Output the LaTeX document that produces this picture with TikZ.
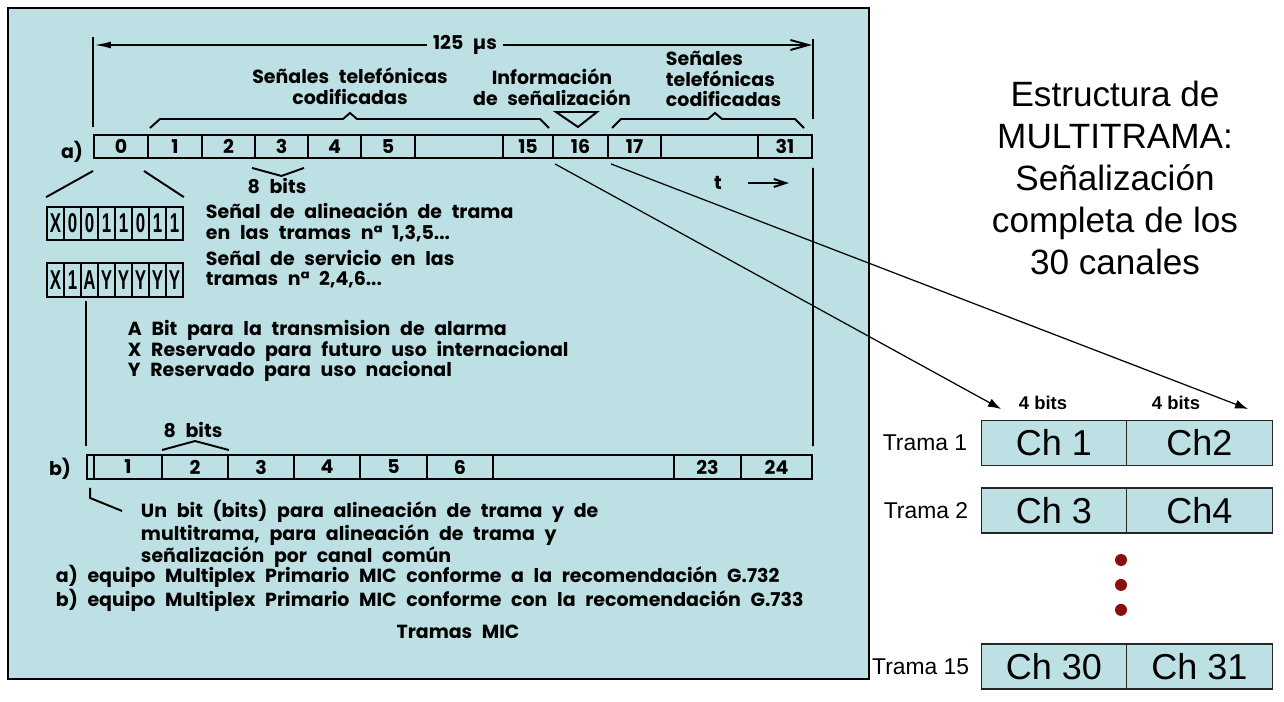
\documentclass[tikz,border=0pt]{standalone}
\usepackage{fontspec}
\setmainfont{Liberation Sans}
\newfontfamily\cadfont{Poppins}[WordSpace=2.4]
\newfontfamily\cellfont{Liberation Sans}[FakeStretch=0.62]
\usepackage{tikz}
\usetikzlibrary{arrows.meta, positioning}
\definecolor{colorPanel}{HTML}{BCE0E3}
\definecolor{colorDot}{HTML}{8C0F0F}

\begin{document}
\begin{tikzpicture}[x=0.02cm, y=-0.02cm, line width=1.1pt,
    cad/.style={font=\cadfont\bfseries\fontsize{10.8}{11.8}\selectfont, inner sep=0pt},
    slot/.style={draw, cad, minimum height=0.46cm},
    bitcell/.style={draw, line width=1pt, inner sep=0pt, minimum width=0.34cm, minimum height=0.66cm,
        font=\cellfont\bfseries\fontsize{15.5}{16}\selectfont},
    chbox/.style={draw=black!85, line width=0.8pt, fill=colorPanel, inner sep=0pt, outer sep=0pt,
        minimum width=2.91cm, minimum height=0.9cm, font=\fontsize{20.5}{24}\selectfont},
    trama/.style={anchor=east, inner sep=0pt, font=\fontsize{13}{15}\selectfont},
    dot/.style={circle, fill=colorDot, inner sep=0pt, minimum size=0.24cm}]
    \useasboundingbox (0,0) rectangle (1284,702);
    \filldraw[fill=colorPanel, line width=0.6pt] (8,8) rectangle (869,679);

    \foreach \n/\xa/\xb/\lab in {s0/94/148/0, s1/148/202/1, s2/202/255/2, s3/255/308/3, s4/308/361/4, s5/361/415/5,
        sx/415/503/{}, s15/503/553/15, s16/553/608/16, s17/608/661/17, sy/661/758/{}, s31/758/812/31}
        \node[slot, minimum width={(\xb-\xa)*0.02cm}] (\n) at ({(\xa+\xb)/2},146.5) {\lab};
    \foreach \n/\xa/\xb/\lab in {b0/87/94/{}, b1/94/162/1, b2/162/228/2, b3/228/294/3, b4/294/360/4, b5/360/427/5,
        b6/427/493/6, bx/493/674/{}, b23/674/741/23, b24/741/812/24}
        \node[slot, minimum width={(\xb-\xa)*0.02cm}, minimum height=0.48cm] (\n) at ({(\xa+\xb)/2},467) {\lab};

    \node[cad] (period) at (465,45) {125 µs};
    \coordinate (pl) at (94,45);
    \coordinate (pr) at (812,45);
    \draw[-{Latex[length=0.34cm,width=0.14cm]}] ([xshift=-3pt]period.west) -- (pl);
    \draw[-{Straight Barb[length=0.36cm,width=0.2cm]}] ([xshift=3pt]period.east) -- (pr);
    \draw ([shift={(0,-7)}]s0.north west) -- ++(0,-90);
    \draw ([shift={(0,-15)}]s31.north east) -- ++(0,-80);

    \node[cad, align=center] (tel1) at (350,86) {Señales telefónicas\\codificadas};
    \node[cad, align=center] (info) at (552,87) {Información\\de señalización};
    \node[cad, align=left, anchor=west] (tel2) at (665,79) {Señales\\telefónicas\\codificadas};
    \draw (150,128) -- (160,119) -- (343,119) -- (350,113) -- (357,119) -- (540,119) -- (549,128);
    \draw (612,128) -- (621,119) -- (708,119) -- (715,113) -- (722,119) -- (795,119) -- (804,128);
    \draw (556,112) -- (597,112) -- (578,127) -- cycle;

    \node[cad] (la) at (72,152) {a)};
    \node[cad] (bitsa) at (277,186) {8 bits};
    \draw ([shift={(-2,9)}]s3.south west) -- ([shift={(0,17)}]s3.south) -- ([shift={(-5,9)}]s3.south east);
    \node[cad] (tlab) at (718,183) {t};
    \draw[-{Straight Barb[length=0.24cm,width=0.16cm]}] ([shift={(25,0)}]tlab.east) -- ++(41,0);

    \foreach \c [count=\i] in {X,0,0,1,1,0,1,1}
        \node[bitcell] (ba\i) at ({47+17*\i-8.5},223.5) {\c};
    \foreach \c [count=\i] in {X,1,A,Y,Y,Y,Y,Y}
        \node[bitcell, minimum height=0.68cm] (bb\i) at ({47+17*\i-8.5},280) {\c};
    \draw ([shift={(0,12)}]s0.south west) -- ([shift={(0,-9)}]ba1.north west);
    \draw ([shift={(-5,12)}]s0.south east) -- ([shift={(0,-9)}]ba8.north east);

    \node[cad, align=left, anchor=west] (alin) at (205,222.5) {Señal de alineación de trama\\en las tramas nª 1,3,5...};
    \node[cad, align=left, anchor=west] (serv) at (205,269) {Señal de servicio en las\\tramas nª 2,4,6...};
    \node[cad, align=left, anchor=west] (leyenda) at (127,351) {A Bit para la transmision de alarma\\X Reservado para futuro uso internacional\\Y Reservado para uso nacional};

    \draw ([shift={(0,-8)}]b0.north west) -- ([shift={(0,-153)}]b0.north west);
    \draw ([shift={(0,9)}]s31.south east) -- ([shift={(0,-8)}]b24.north east);

    \node[cad] (lb) at (60,469) {b)};
    \node[cad] (bitsb) at (193,430) {8 bits};
    \draw ([shift={(1,-4)}]b2.north west) -- ([shift={(0,-13)}]b2.north) -- ([shift={(0,-4)}]b2.north east);
    \draw ([shift={(4,8)}]b0.south west) -- ++(0,10) -- ++(32,13);
    \node[cad, align=left, anchor=west] (unbit) at (140,534) {Un bit (bits) para alineación de trama y de\\multitrama, para alineación de trama y\\señalización por canal común};
    \node[cad, align=left, anchor=west] (equipo) at (55,588) {a) equipo Multiplex Primario MIC conforme a la recomendación G.732\\b) equipo Multiplex Primario MIC conforme con la recomendación G.733};
    \node[cad] (tramas) at (458,632) {Tramas MIC};

    \node[font=\fontsize{20}{24}\selectfont, align=center] (title) at (1115,178) {Estructura de\\MULTITRAMA:\\Señalización\\completa de los\\30 canales};
    \node[chbox] (ch1) at (1054,443) {Ch 1};
    \node[chbox, right=0pt of ch1] (ch2) {Ch2};
    \node[chbox] (ch3) at (1054,510.5) {Ch 3};
    \node[chbox, right=0pt of ch3] (ch4) {Ch4};
    \node[chbox] (ch30) at (1054,666.5) {Ch 30};
    \node[chbox, right=0pt of ch30] (ch31) {Ch 31};
    \node[trama] (t1) at (968,443) {Trama 1};
    \node[trama] (t2) at (969,510.5) {Trama 2};
    \node[trama] (t15) at (970,666.5) {Trama 15};
    \node[dot] (d1) at (1121,560) {};
    \node[dot, below=0.22cm of d1] (d2) {};
    \node[dot, below=0.22cm of d2] (d3) {};

    \node[font=\bfseries\fontsize{10.5}{12}\selectfont] (cuatroA) at (1043,403) {4 bits};
    \node[font=\bfseries\fontsize{10.5}{12}\selectfont] (cuatroB) at (1176,403) {4 bits};
    \coordinate (tipA) at (1001,409);
    \coordinate (tipB) at (1248,409);
    \draw[line width=0.7pt, -{Latex[length=0.26cm,width=0.18cm]}] ([shift={(3,5)}]s16.south west) -- (tipA);
    \draw[line width=0.7pt, -{Latex[length=0.26cm,width=0.18cm]}] ([shift={(4,5)}]s17.south west) -- (tipB);
\end{tikzpicture}
\end{document}
